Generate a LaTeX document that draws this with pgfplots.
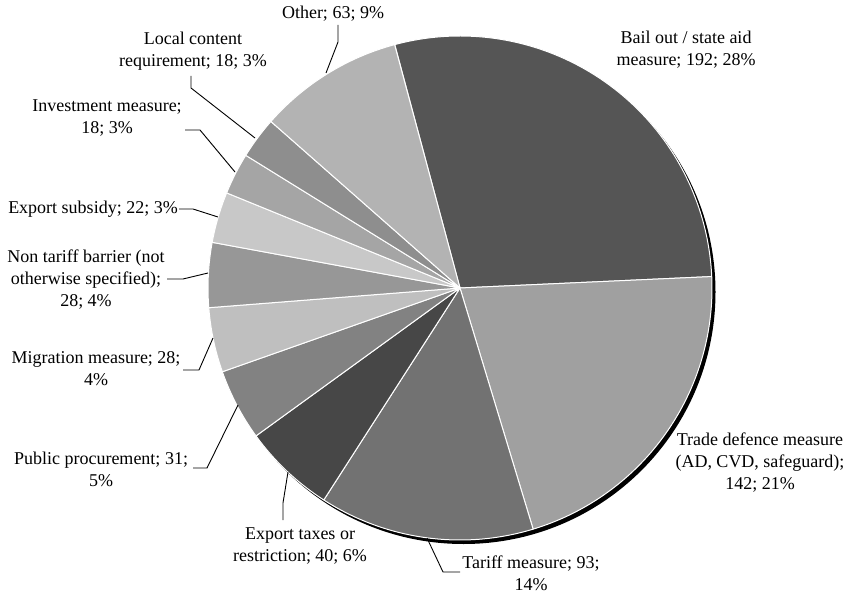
\documentclass[border=0pt]{standalone}
\usepackage{fontspec}
\setmainfont{Liberation Serif}
\usepackage{pgfplots}
\usepackage{pgfplotstable}
\pgfplotsset{compat=1.18}

% Measure counts, in clockwise order starting from the first slice
\pgfplotstableread[col sep=comma]{
label,value
Bail out / state aid measure,192
Trade defence measure,142
Tariff measure,93
Export taxes or restriction,40
Public procurement,31
Migration measure,28
Non tariff barrier,28
Export subsidy,22
Investment measure,18
Local content requirement,18
Other,63
}\pietable

\definecolor{slice0}{HTML}{555555}
\definecolor{slice1}{HTML}{A0A0A0}
\definecolor{slice2}{HTML}{727272}
\definecolor{slice3}{HTML}{474747}
\definecolor{slice4}{HTML}{828282}
\definecolor{slice5}{HTML}{BFBFBF}
\definecolor{slice6}{HTML}{979797}
\definecolor{slice7}{HTML}{C8C8C8}
\definecolor{slice8}{HTML}{A5A5A5}
\definecolor{slice9}{HTML}{8E8E8E}
\definecolor{slice10}{HTML}{B3B3B3}

\begin{document}
\begin{tikzpicture}[
  lbl/.style={align=center, inner sep=0pt, font=\fontsize{9}{11}\selectfont},
  lead/.style={black, line width=0.45pt}]
\begin{axis}[
  scale only axis, width=423.5pt, height=298pt,
  xmin=0, xmax=847, ymin=-596, ymax=0,
  hide axis, clip=false]

% total of all slices
\pgfplotstablegetrowsof{\pietable}
\pgfmathtruncatemacro\lastrow{\pgfplotsretval-1}
\def\total{0}
\pgfplotsforeachungrouped \i in {0,...,\lastrow}{%
  \pgfplotstablegetelem{\i}{value}\of\pietable
  \pgfmathsetmacro\total{\total+\pgfplotsretval}%
}

% drop shadow behind the pie
\fill[black] (axis cs:463.5,-292) circle[radius=126pt];

% slices, clockwise from 105 degrees
\def\startang{105}
\pgfplotsforeachungrouped \i in {0,...,\lastrow}{%
  \pgfplotstablegetelem{\i}{value}\of\pietable
  \pgfmathsetmacro\endang{\startang-\pgfplotsretval/\total*360}%
  \edef\temp{\noexpand\fill[slice\i, draw=white, line width=0.5pt, line join=round]
    (axis cs:460,-288) -- (axis cs:{460+252*cos(\startang)},{-288+252*sin(\startang)})
    arc[start angle=\startang, end angle=\endang, radius=126pt] -- cycle;}%
  \temp
  \let\startang\endang
}

% labels
\node[lbl] at (axis cs:686,-50) {Bail out / state aid\\measure; 192; 28\%};
\node[lbl] at (axis cs:760,-463) {Trade defence measure\\(AD, CVD, safeguard);\\142; 21\%};
\node[lbl] at (axis cs:531,-573) {Tariff measure; 93;\\14\%};
\node[lbl] at (axis cs:300,-546) {Export taxes or\\restriction; 40; 6\%};
\node[lbl] at (axis cs:101,-469) {Public procurement; 31;\\5\%};
\node[lbl] at (axis cs:96,-369) {Migration measure; 28;\\4\%};
\node[lbl] at (axis cs:86,-280) {Non tariff barrier (not\\otherwise specified);\\28; 4\%};
\node[lbl] at (axis cs:93,-209) {Export subsidy; 22; 3\%};
\node[lbl] at (axis cs:107,-118) {Investment measure;\\18; 3\%};
\node[lbl] at (axis cs:193,-51) {Local content\\requirement; 18; 3\%};
\node[lbl] at (axis cs:333,-14) {Other; 63; 9\%};

% leader lines
\draw[lead] (axis cs:427,-538) -- (axis cs:443,-572) -- (axis cs:460,-572);
\draw[lead] (axis cs:288,-472) -- (axis cs:283,-503) -- (axis cs:283,-520);
\draw[lead] (axis cs:193,-468) -- (axis cs:207,-468) -- (axis cs:238,-405);
\draw[lead] (axis cs:183,-370) -- (axis cs:199,-370) -- (axis cs:213,-338);
\draw[lead] (axis cs:167,-279) -- (axis cs:183,-279) -- (axis cs:208,-273);
\draw[lead] (axis cs:179,-209) -- (axis cs:193,-209) -- (axis cs:218,-217);
\draw[lead] (axis cs:185,-130) -- (axis cs:200,-130) -- (axis cs:235,-172);
\draw[lead] (axis cs:191,-76) -- (axis cs:191,-88) -- (axis cs:255,-138);
\draw[lead] (axis cs:338,-25) -- (axis cs:338,-42) -- (axis cs:326,-73);

% page extent
\path (axis cs:0,0) (axis cs:847,-596);
\end{axis}
\end{tikzpicture}
\end{document}
